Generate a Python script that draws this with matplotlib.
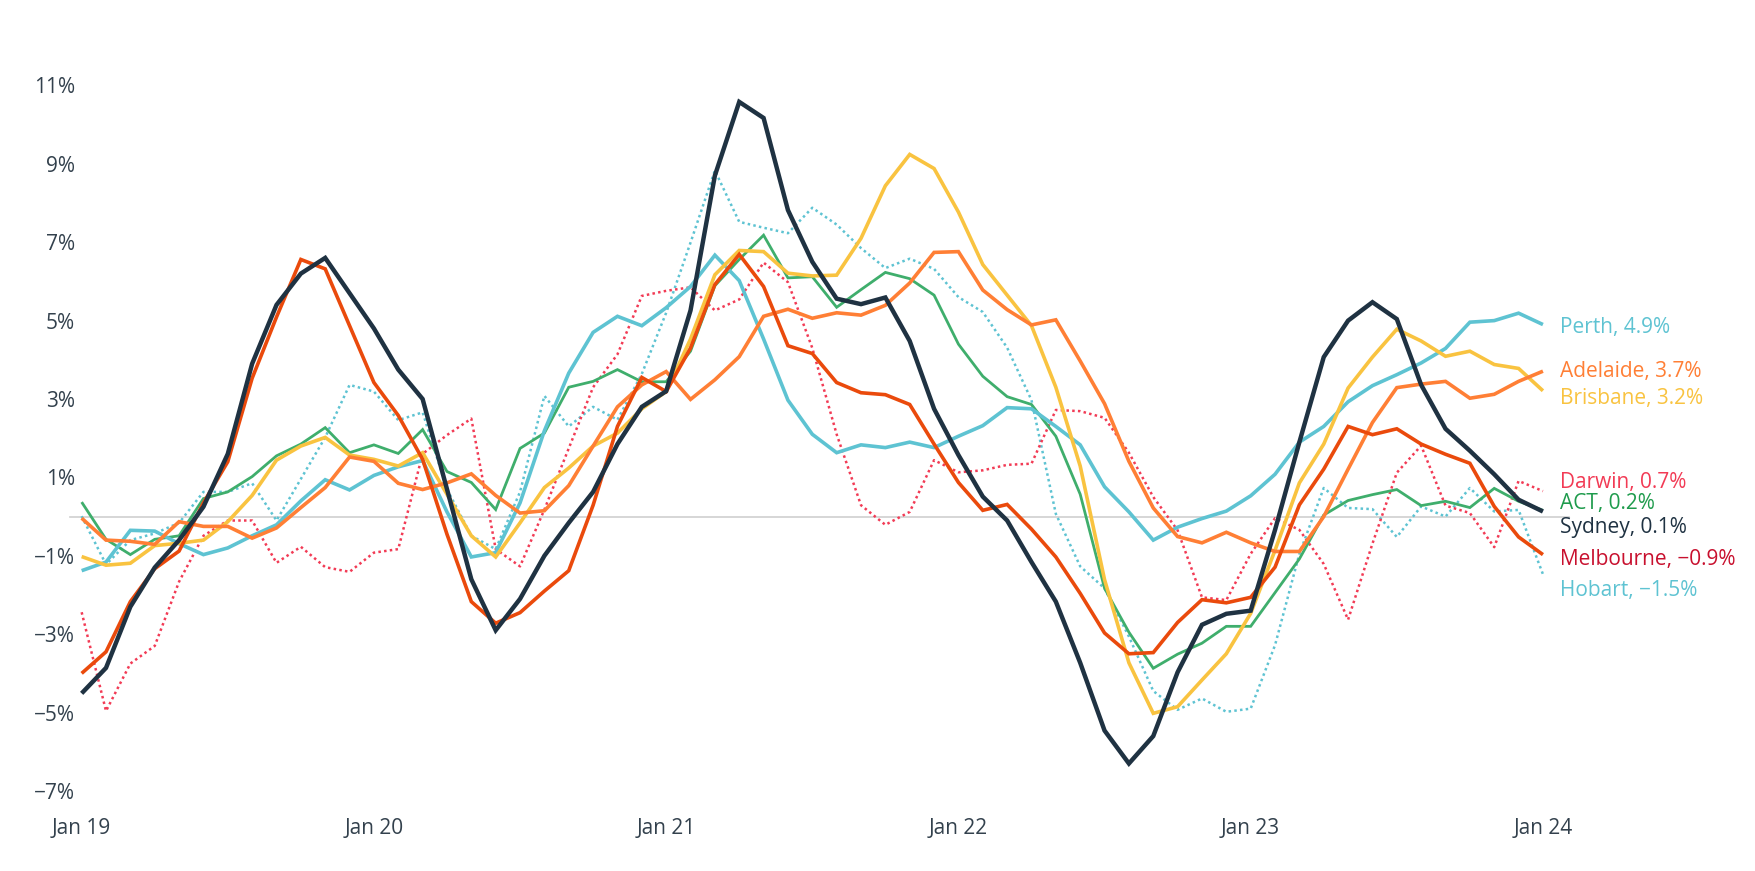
import numpy as np
import pandas as pd
import matplotlib
matplotlib.use('Agg')
import matplotlib.pyplot as plt

plt.rcParams['font.family'] = ['Open Sans', 'DejaVu Sans']

# meses de jan/2019 a jan/2024
meses = pd.date_range('2019-01-01', '2024-01-01', freq='MS')

sydney = [-4.51, -3.86, -2.3, -1.3, -0.6, 0.25, 1.6, 3.9, 5.4, 6.2, 6.6, 5.7, 4.8, 3.75, 3.0, 0.7,
          -1.6, -2.9, -2.1, -1.0, -0.16, 0.63, 1.85, 2.8, 3.2, 5.26, 8.7, 10.58, 10.17, 7.82, 6.5, 5.56,
          5.42, 5.59, 4.48, 2.75, 1.57, 0.51, -0.1, -1.16, -2.17, -3.73, -5.46, -6.3, -5.6, -3.97, -2.76,
          -2.48, -2.4, -0.34, 1.9, 4.07, 5.0, 5.47, 5.04, 3.36, 2.24, 1.68, 1.08, 0.43, 0.13]
melbourne = [-4.0, -3.45, -2.17, -1.33, -0.88, 0.35, 1.4, 3.53, 5.09, 6.56, 6.32, 4.87, 3.42, 2.58, 1.46, -0.45,
             -2.17, -2.72, -2.45, -1.9, -1.38, 0.29, 2.3, 3.55, 3.19, 4.3, 5.92, 6.69, 5.87, 4.36, 4.16, 3.42,
             3.16, 3.11, 2.86, 1.85, 0.87, 0.16, 0.31, -0.32, -1.03, -1.96, -2.97, -3.5, -3.47, -2.7, -2.12,
             -2.2, -2.06, -1.29, 0.3, 1.21, 2.3, 2.09, 2.24, 1.85, 1.59, 1.36, 0.26, -0.52, -0.97]
adelaide = [-0.04, -0.6, -0.63, -0.71, -0.13, -0.25, -0.25, -0.55, -0.29, 0.23, 0.74, 1.52, 1.41, 0.85, 0.69, 0.86,
            1.09, 0.54, 0.09, 0.15, 0.79, 1.8, 2.8, 3.36, 3.7, 2.99, 3.49, 4.08, 5.11, 5.29, 5.06, 5.2,
            5.14, 5.39, 5.96, 6.74, 6.76, 5.78, 5.28, 4.89, 5.02, 3.97, 2.88, 1.41, 0.22, -0.51, -0.67,
            -0.4, -0.67, -0.89, -0.89, 0.0, 1.21, 2.4, 3.29, 3.38, 3.45, 3.02, 3.12, 3.45, 3.71]
brisbane = [-1.02, -1.24, -1.19, -0.74, -0.68, -0.6, -0.13, 0.54, 1.44, 1.8, 2.02, 1.57, 1.46, 1.29, 1.63, 0.57,
            -0.49, -1.03, -0.16, 0.74, 1.24, 1.8, 2.13, 2.75, 3.19, 4.53, 6.17, 6.79, 6.76, 6.21, 6.14, 6.16,
            7.1, 8.44, 9.24, 8.88, 7.77, 6.43, 5.65, 4.87, 3.3, 1.29, -1.61, -3.73, -5.02, -4.85, -4.17,
            -3.5, -2.47, -0.86, 0.86, 1.85, 3.28, 4.07, 4.78, 4.48, 4.09, 4.22, 3.88, 3.78, 3.21]
perth = [-1.38, -1.16, -0.35, -0.37, -0.69, -0.97, -0.8, -0.49, -0.21, 0.4, 0.94, 0.68, 1.05, 1.27, 1.43, 0.12,
         -1.03, -0.92, 0.35, 2.19, 3.66, 4.7, 5.11, 4.87, 5.33, 5.87, 6.67, 6.02, 4.53, 2.97, 2.1, 1.63,
         1.83, 1.76, 1.9, 1.76, 2.05, 2.32, 2.78, 2.75, 2.3, 1.83, 0.76, 0.12, -0.6, -0.27, -0.05,
         0.14, 0.53, 1.08, 1.9, 2.3, 2.93, 3.34, 3.62, 3.92, 4.29, 4.96, 5.0, 5.19, 4.9]
act = [0.37, -0.58, -0.97, -0.58, -0.49, 0.46, 0.63, 1.02, 1.55, 1.85, 2.27, 1.63, 1.83, 1.61, 2.22, 1.15,
       0.87, 0.18, 1.74, 2.13, 3.3, 3.45, 3.75, 3.44, 3.44, 4.22, 5.89, 6.56, 7.18, 6.09, 6.12, 5.34,
       5.79, 6.23, 6.07, 5.65, 4.4, 3.58, 3.06, 2.86, 2.05, 0.57, -1.83, -2.95, -3.87, -3.51, -3.23,
       -2.8, -2.8, -1.94, -1.08, 0.04, 0.41, 0.56, 0.69, 0.28, 0.39, 0.23, 0.72, 0.39, 0.16]
darwin = [-2.44, -4.96, -3.75, -3.3, -1.66, -0.49, -0.1, -0.1, -1.18, -0.77, -1.29, -1.41, -0.92, -0.83, 1.6, 2.08,
          2.5, -0.83, -1.27, 0.18, 1.74, 3.3, 4.14, 5.63, 5.76, 5.85, 5.26, 5.54, 6.48, 5.98, 4.3, 2.1,
          0.29, -0.21, 0.12, 1.44, 1.13, 1.18, 1.32, 1.35, 2.72, 2.69, 2.52, 1.63, 0.5, -0.35, -2.06,
          -2.13, -0.95, -0.04, -0.34, -1.21, -2.63, -0.69, 1.12, 1.81, 0.28, 0.09, -0.78, 0.91, 0.65]
hobart = [0.01, -1.22, -0.6, -0.43, -0.16, 0.63, 0.63, 0.85, -0.1, 0.96, 2.02, 3.36, 3.19, 2.46, 2.66, 0.7,
          -0.49, -0.83, 0.63, 3.08, 2.3, 2.8, 2.47, 3.64, 5.2, 6.99, 8.83, 7.52, 7.37, 7.23, 7.88, 7.45,
          6.85, 6.34, 6.58, 6.32, 5.6, 5.22, 4.31, 2.97, 0.07, -1.27, -1.83, -3.06, -4.45, -4.93, -4.64,
          -4.98, -4.9, -3.28, -0.95, 0.73, 0.22, 0.19, -0.52, 0.26, 0.0, 0.73, 0.13, 0.17, -1.47]

rotulos = ['Perth, 4.9%', 'Adelaide, 3.7%', 'Brisbane, 3.2%', 'Darwin, 0.7%',
           'ACT, 0.2%', 'Sydney, 0.1%', 'Melbourne, \u22120.9%', 'Hobart, \u22121.5%']
y_ticks = [-7, -5, -3, -1, 1, 3, 5, 7, 9, 11]
x_ticks = ['Jan 19', 'Jan 20', 'Jan 21', 'Jan 22', 'Jan 23', 'Jan 24']

# estilo de cada serie: (dados, cor linha, largura, estilo, cor do rotulo, posicao y do rotulo, ordem)
series = [
    (hobart,    '#5EC3D2', 1.8, (0, (1, 1.3)), '#5EC3D2', -1.89, 1),
    (darwin,    '#F23B55', 1.8, (0, (1, 1.3)), '#F23B55', 0.88, 2),
    (act,       '#3FAE6C', 2.0, '-',           '#1E9B4C', 0.34, 3),
    (perth,     '#5EC3D2', 2.6, '-',           '#5EC3D2', 4.83, 4),
    (brisbane,  '#F9C340', 2.6, '-',           '#F9C340', 3.02, 5),
    (adelaide,  '#FF7F35', 2.6, '-',           '#FF7F35', 3.70, 6),
    (melbourne, '#EA4A0C', 2.6, '-',           '#C8102E', -1.09, 7),
    (sydney,    '#1F3242', 3.2, '-',           '#1F3242', -0.27, 8),
]
ordem_rotulo = [perth, adelaide, brisbane, darwin, act, sydney, melbourne, hobart]

fig = plt.figure(figsize=(17.56, 8.71), dpi=100)
ax = fig.add_axes([78 / 1756, 0.0829, (1569 - 78) / 1756, 0.8415])

x = np.arange(len(meses))
for dados, cor, lw, ls, _, _, z in series:
    ax.plot(x, dados, color=cor, linewidth=lw, linestyle=ls, zorder=z,
            solid_joinstyle='miter', solid_capstyle='butt')

ax.plot([-0.48, 61.07], [0, 0], color='#CFCFCF', linewidth=1.2, zorder=0, clip_on=False)

for dados, rot in zip(ordem_rotulo, rotulos):
    s = [t for t in series if t[0] is dados][0]
    ax.text(60.7, s[5], rot, color=s[4], fontsize=15, va='center', ha='left', clip_on=False)

ax.set_xlim(-0.15, 61.07)
ax.set_ylim(-7.2, 11.5)
ax.set_yticks(y_ticks)
ax.set_yticklabels([f'{v}%'.replace('-', '\u2212') for v in y_ticks])
ax.set_xticks(np.arange(0, 61, 12))
ax.set_xticklabels(x_ticks)
ax.tick_params(axis='both', length=0, labelsize=15, colors='#33414D')
ax.tick_params(axis='y', pad=2)
ax.tick_params(axis='x', pad=14)
for sp in ax.spines.values():
    sp.set_visible(False)

fig.savefig('out.png', dpi=100, facecolor='white')
